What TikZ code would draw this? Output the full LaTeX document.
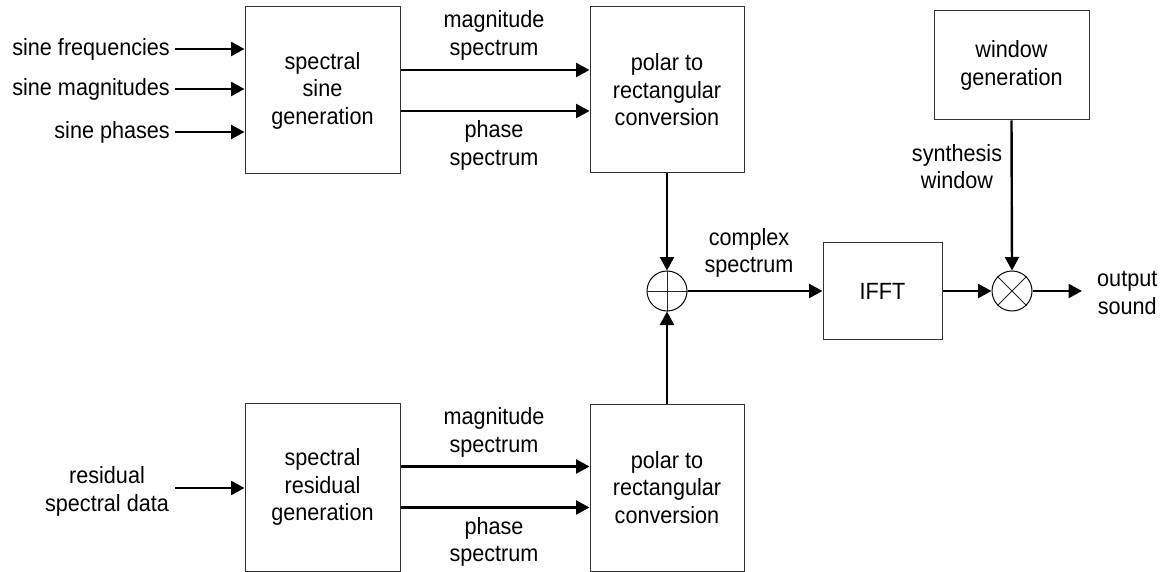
\documentclass[tikz,border=0pt]{standalone}
\usepackage{fontspec}
\setmainfont{Liberation Sans}[FakeStretch=0.92]
\usetikzlibrary{arrows.meta}
\begin{document}
\begin{tikzpicture}[x=1pt,y=-1pt,
  txt/.style={font=\fontsize{23.5}{27.5}\selectfont, align=center, inner sep=0pt},
  blk/.style={draw=black!80, line width=1pt, fill=white, txt, minimum width=#1},
  conn/.style={line width=2.4pt, -{Triangle[length=13.5pt,width=14pt]}},
  junc/.style={draw=black, line width=1pt, circle, minimum size=40pt, inner sep=0pt}
]
\useasboundingbox (0,0) rectangle (1170,572);

% blocks
\node[blk=155pt, minimum height=167pt] (ssg) at (322.5,90.5) {spectral\\sine\\generation};
\node[blk=154pt, minimum height=166pt] (prt) at (667,90) {polar to\\rectangular\\conversion};
\node[blk=155pt, minimum height=109pt] (win) at (1011.5,65.5) {window\\generation};
\node[blk=119pt, minimum height=96pt] (ifft) at (882.5,291) {IFFT};
\node[blk=155pt, minimum height=168pt] (srg) at (322.5,487) {spectral\\residual\\generation};
\node[blk=154pt, minimum height=167pt] (prb) at (667,487.5) {polar to\\rectangular\\conversion};

% junctions
\node[junc] (sum) at (667,291) {};
\draw[line width=0.8pt, black!85] (sum.north) -- (sum.south) (sum.west) -- (sum.east);
\node[junc] (mul) at (1012,291) {};
\draw[line width=0.8pt, black!85] (mul.north west) -- (mul.south east) (mul.north east) -- (mul.south west);

% input labels
\node[txt, anchor=east, inner xsep=5pt] (in1) at (175,49) {sine frequencies};
\node[txt, anchor=east, inner xsep=5pt] (in2) at (175,89) {sine magnitudes};
\node[txt, anchor=east, inner xsep=5pt] (in3) at (175,132) {sine phases};
\coordinate (in4) at (175,488);
\node[txt] (in4l) at (107,491.5) {residual\\spectral data};

\draw[conn] (in1.east) -- (in1.east -| ssg.west);
\draw[conn] (in2.east) -- (in2.east -| ssg.west);
\draw[conn] (in3.east) -- (in3.east -| ssg.west);
\draw[conn] (in4) -- (in4 -| srg.west);

% top spectra
\draw[conn] ([yshift=-20.5pt]ssg.east) -- ([yshift=-20.5pt]ssg.east -| prt.west);
\draw[conn] ([yshift=20.5pt]ssg.east) -- ([yshift=20.5pt]ssg.east -| prt.west);
\node[txt] (lmt) at (494,35.5) {magnitude\\spectrum};
\node[txt] (lpt) at (494,145.5) {phase\\spectrum};

% bottom spectra
\draw[conn] ([yshift=-20.5pt]srg.east) -- ([yshift=-20.5pt]srg.east -| prb.west);
\draw[conn] ([yshift=20.5pt]srg.east) -- ([yshift=20.5pt]srg.east -| prb.west);
\node[txt] (lmb) at (494,432.5) {magnitude\\spectrum};
\node[txt] (lpb) at (494,542) {phase\\spectrum};

% to sum
\draw[conn] (prt.south) -- (sum.north);
\draw[conn] (prb.north) -- (sum.south);

% sum -> IFFT -> mul
\draw[conn] (sum.east) -- (ifft.west);
\node[txt] (lcs) at (749,253) {complex\\spectrum};
\draw[conn] (ifft.east) -- (mul.west);

% window
\draw[conn] (win.south) -- (mul.north);
\node[txt] (lsw) at (957,166.5) {synthesis\\window};

% output
\coordinate (outp) at (1082,291);
\draw[conn] (mul.east) -- (outp);
\node[txt, anchor=west] (lout) at (1097,293) {output\\sound};
\end{tikzpicture}
\end{document}
